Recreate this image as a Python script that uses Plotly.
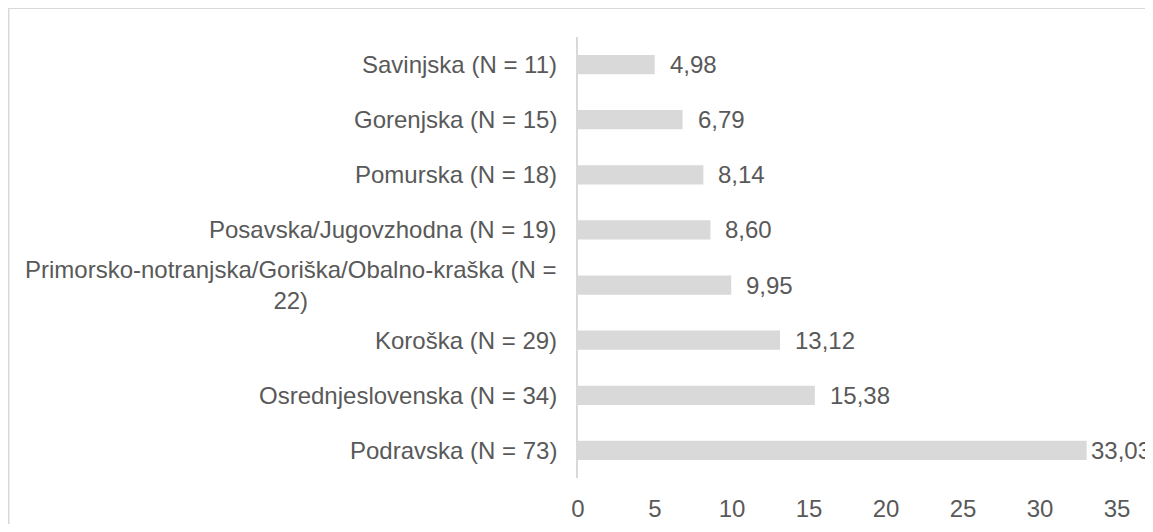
import plotly.graph_objects as go

categories = [
    "Savinjska (N = 11)",
    "Gorenjska (N = 15)",
    "Pomurska (N = 18)",
    "Posavska/Jugovzhodna (N = 19)",
    "Primorsko-notranjska/Goriška/Obalno-kraška (N =<br>22)",
    "Koroška (N = 29)",
    "Osrednjeslovenska (N = 34)",
    "Podravska (N = 73)",
]
values = [4.98, 6.79, 8.14, 8.60, 9.95, 13.12, 15.38, 33.03]
x_ticks = [0, 5, 10, 15, 20, 25, 30, 35]

FONT = "Liberation Sans, Arial, sans-serif"
TXT = "#595959"
GRID = "#d9d9d9"
FS = 24

# page body has an 8px margin; size chosen so the page does not scroll
W, H = 1145, 516
L, R, T, B = 570, 36, 29, 46
pw, ph = W - L - R, H - T - B
XMAX = 35
ppu = pw / XMAX

ids = list(range(len(categories)))

fig = go.Figure(go.Bar(
    x=values, y=ids, orientation="h",
    marker=dict(color="#d9d9d9", line=dict(width=0)),
    width=0.35, hoverinfo="skip",
))

def label_text(v):
    return f"{v:.2f}".replace(".", ",")

def text_width(s):
    # approximate Arial advance widths
    w = 0.0
    for ch in s:
        w += 0.278 if ch in ",." else 0.556
    return w * FS + 3

annotations = []
for i, (c, v) in enumerate(zip(categories, values)):
    t = label_text(v)
    shift = 13
    right = L + v * ppu + shift + text_width(t)
    if right > W - 1:
        # keep the label inside the chart area, as the original does
        shift -= right - (W - 1)
    annotations.append(dict(
        x=v, y=i, xref="x", yref="y", text=t,
        showarrow=False, xanchor="left", yanchor="middle", xshift=shift,
        font=dict(family=FONT, size=FS, color=TXT),
    ))
    annotations.append(dict(
        x=0, y=i, xref="paper", yref="y", text=c, align="center",
        showarrow=False, xanchor="right", yanchor="middle", xshift=-19,
        font=dict(family=FONT, size=FS, color=TXT),
    ))

def px2paper_x(px):
    return (px - L) / pw

def px2paper_y(py):
    return (H - B - py) / ph

shapes = [
    dict(type="line", xref="paper", yref="paper",
         x0=px2paper_x(0), x1=px2paper_x(W + 10), y0=px2paper_y(0), y1=px2paper_y(0),
         line=dict(color="#d9d9d9", width=2)),
    dict(type="line", xref="paper", yref="paper",
         x0=px2paper_x(0.5), x1=px2paper_x(0.5), y0=px2paper_y(0), y1=px2paper_y(H + 10),
         line=dict(color="#d9d9d9", width=2)),
]

fig.update_layout(
    width=W, height=H,
    margin=dict(l=L, r=R, t=T, b=B, pad=0, autoexpand=False),
    paper_bgcolor="white", plot_bgcolor="white",
    showlegend=False,
    separators=", ",
    font=dict(family=FONT, size=FS, color=TXT),
    annotations=annotations,
    shapes=shapes,
    xaxis=dict(
        range=[0, XMAX], tickvals=x_ticks, ticktext=[str(t) for t in x_ticks],
        showgrid=False, zeroline=False, showline=False,
        ticks="", ticklabelstandoff=14, automargin=False,
        tickfont=dict(family=FONT, size=FS, color=TXT),
        fixedrange=True,
    ),
    yaxis=dict(
        range=[len(categories) - 0.5, -0.5], automargin=False,
        showticklabels=False, showgrid=False, zeroline=False,
        showline=True, linecolor=GRID, linewidth=1.5, ticks="",
        fixedrange=True,
    ),
)

fig.write_html("out.html")
